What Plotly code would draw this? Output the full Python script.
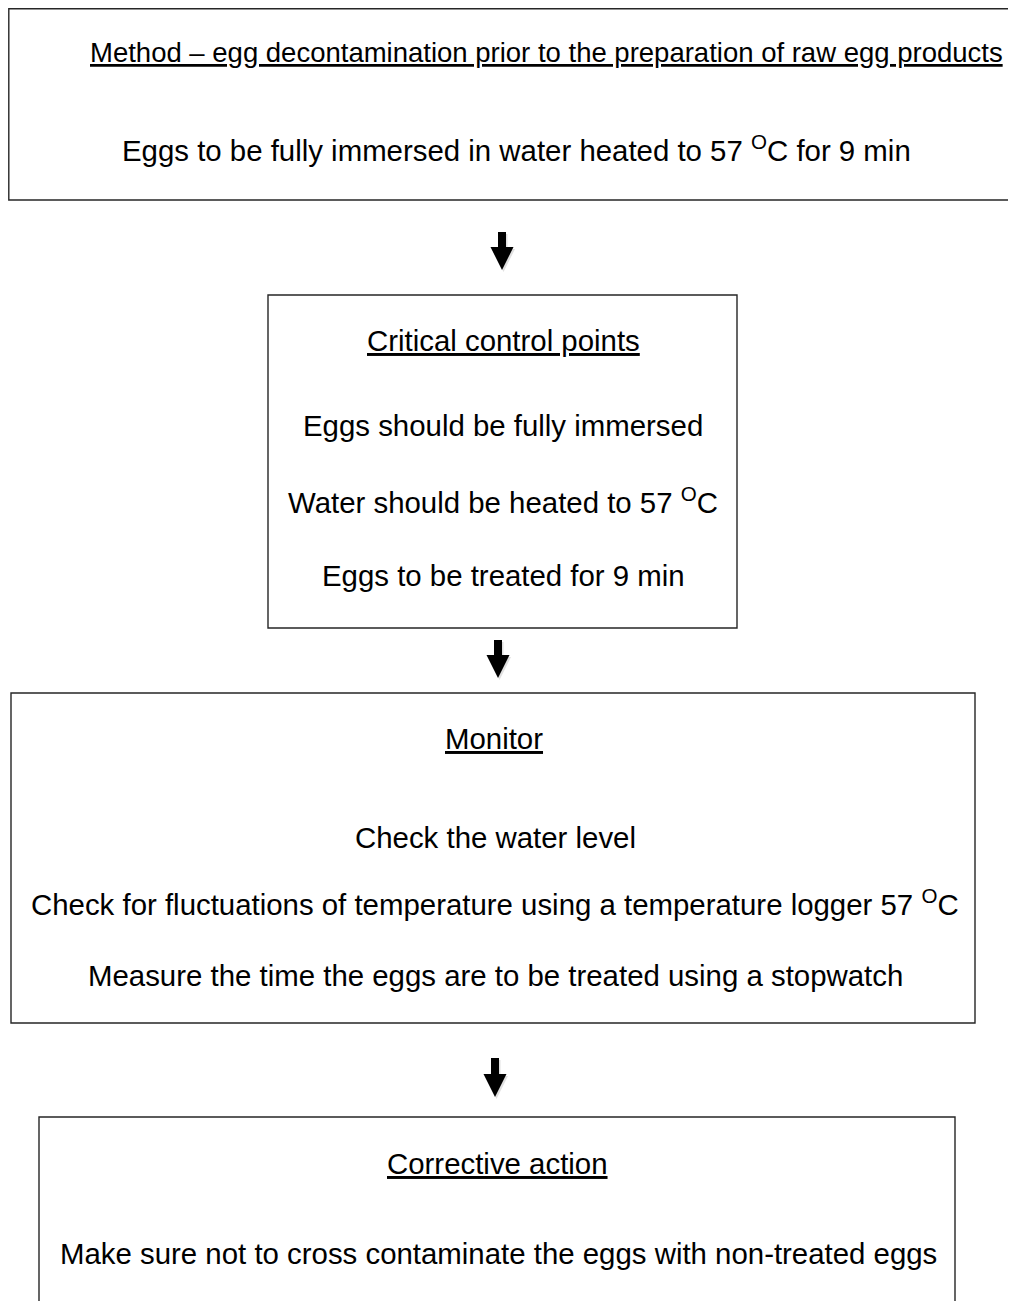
import plotly.graph_objects as go

W, H = 1016, 1301
OFF = 8  # default body margin of the html page

# ---- content ----
box_titles = [
    "Method – egg decontamination prior to the preparation of raw egg products",
    "Critical control points",
    "Monitor",
    "Corrective action",
]
box_lines = [
    ["Eggs to be fully immersed in water heated to 57 <sup>O</sup>C for 9 min"],
    ["Eggs should be fully immersed",
     "Water should be heated to 57 <sup>O</sup>C",
     "Eggs to be treated for 9 min"],
    ["Check the water level",
     "Check for fluctuations of temperature using a temperature logger 57 <sup>O</sup>C",
     "Measure the time the eggs are to be treated using a stopwatch"],
    ["Make sure not to cross contaminate the eggs with non-treated eggs"],
]

# ---- layout geometry (page pixels, y downwards) ----
boxes = [  # x0, x1, y0, y1
    (8.8, 1030, 8.8, 200),
    (268, 737, 295, 628),
    (11, 975, 693, 1023),
    (39, 955, 1117, 1330),
]
title_y = [52, 340, 738, 1163]
lines_y = [[148], [425, 500, 575], [837, 902, 975], [1253]]
title_cx = [546, 503, 494, 497]
lines_cx = [516, 503, 495, 498]
title_fs = [27.5, 29.4, 29.4, 29.4]
arrows = [  # cx, shaft_top, head_top, tip
    (502, 232, 247, 270),
    (498, 640, 655, 678),
    (495, 1058, 1074, 1097),
]

FONT = "Liberation Sans, Arial, sans-serif"
FS = 29.4

fig = go.Figure()
fig.add_trace(go.Scatter(x=[0, W], y=[0, H], mode="markers",
                         marker=dict(opacity=0), hoverinfo="skip", showlegend=False))

shapes = []
for (x0, x1, y0, y1) in boxes:
    shapes.append(dict(type="rect", x0=x0, x1=x1, y0=y0, y1=y1,
                       line=dict(color="#262626", width=1.4), fillcolor="rgba(0,0,0,0)",
                       layer="above"))

for (cx, st, ht, tip) in arrows:
    sw, hw = 4, 11.5
    path = (f"M {cx-sw},{st} L {cx+sw},{st} L {cx+sw},{ht} L {cx+hw},{ht} "
            f"L {cx},{tip} L {cx-hw},{ht} L {cx-sw},{ht} Z")
    shadow = (f"M {cx-sw+1.5},{st+2} L {cx+sw+1.5},{st+2} L {cx+sw+1.5},{ht+2} L {cx+hw+1.5},{ht+2} "
              f"L {cx+1.5},{tip+2} L {cx-hw+1.5},{ht+2} L {cx-sw+1.5},{ht+2} Z")
    shapes.append(dict(type="path", path=shadow, fillcolor="rgba(0,0,0,0.12)",
                       line=dict(width=0)))
    shapes.append(dict(type="path", path=path, fillcolor="black", line=dict(width=0)))

annotations = []
for i, t in enumerate(box_titles):
    annotations.append(dict(x=title_cx[i], y=title_y[i], text=f"<u>{t}</u>",
                            showarrow=False, xanchor="center", yanchor="middle",
                            font=dict(family=FONT, size=title_fs[i], color="black")))
    for ly, txt in zip(lines_y[i], box_lines[i]):
        annotations.append(dict(x=lines_cx[i], y=ly, text=txt, showarrow=False,
                                xanchor="center", yanchor="middle",
                                font=dict(family=FONT, size=FS, color="black")))

fig.update_layout(
    width=W, height=H, margin=dict(l=0, r=0, t=0, b=0),
    paper_bgcolor="white", plot_bgcolor="white",
    xaxis=dict(range=[OFF, W + OFF], visible=False, fixedrange=True),
    yaxis=dict(range=[H + OFF, OFF], visible=False, fixedrange=True),
    shapes=shapes, annotations=annotations, showlegend=False,
)

fig.write_html("out.html", config={"displayModeBar": False})
